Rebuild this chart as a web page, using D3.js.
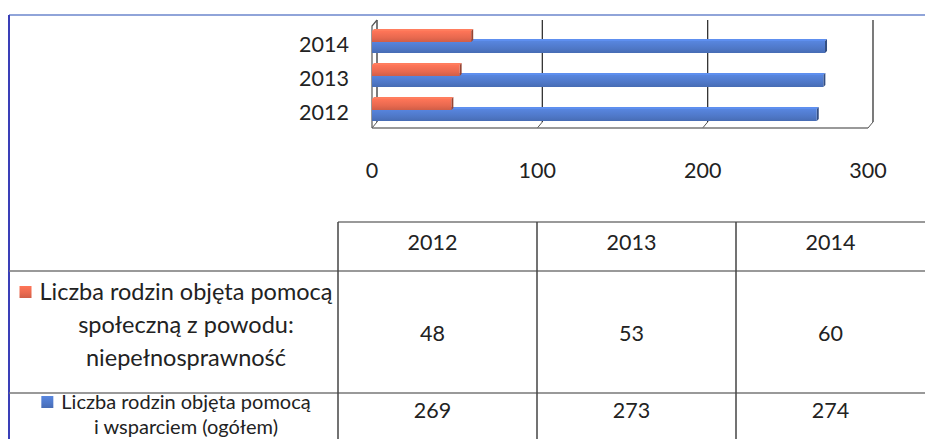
<!DOCTYPE html>
<html>
<head>
<meta charset="utf-8">
<script src="https://cdn.jsdelivr.net/npm/d3@7"></script>
<style>
  body { margin: 0; background: #fff; }
  svg { display: block; font-family: Lato, "Open Sans", sans-serif; }
</style>
</head>
<body>
<div id="container"></div>
<script>
const width = 925, height = 439;

// data
const years = ["2012", "2013", "2014"];
const disability = [48, 53, 60];
const total = [269, 273, 274];
const ticks = [0, 100, 200, 300];
const legendRed = ["Liczba rodzin objęta pomocą", "społeczną z powodu:", "niepełnosprawność"];
const legendBlue = ["Liczba rodzin objęta pomocą", "i wsparciem (ogółem)"];

const red = "#e8694f", blue = "#4f78c8";
const depth = { dx: 5, dy: -6 };

const svg = d3.select("#container")
  .append("svg")
  .attr("width", width)
  .attr("height", height);

const defs = svg.append("defs");
function grad(id, c) {
  const g = defs.append("linearGradient").attr("id", id)
    .attr("x1", 0).attr("y1", 0).attr("x2", 0).attr("y2", 1);
  g.append("stop").attr("offset", "0%").attr("stop-color", d3.color(c).brighter(0.3));
  g.append("stop").attr("offset", "60%").attr("stop-color", c);
  g.append("stop").attr("offset", "100%").attr("stop-color", d3.color(c).darker(0.3));
}
grad("gRed", red);
grad("gBlue", blue);

// outer blue frame
svg.append("line").attr("x1", 9).attr("x2", width).attr("y1", 15).attr("y2", 15)
  .attr("stroke", "#6b86cc").attr("stroke-width", 1.5);
svg.append("line").attr("x1", 9).attr("x2", 9).attr("y1", 15).attr("y2", height)
  .attr("stroke", "#3a3fb8").attr("stroke-width", 2);

// ---- chart ----
const xScale = d3.scaleLinear().domain([0, 300]).range([372, 868]);
const yScale = d3.scaleBand().domain(["2014", "2013", "2012"]).range([24, 126]);
const floorY = 128, wallTop = 20;

const grid = svg.append("g");
// back gridlines
grid.selectAll("line.grid")
  .data(ticks)
  .join("line")
  .attr("class", "grid")
  .attr("x1", d => xScale(d) + depth.dx)
  .attr("x2", d => xScale(d) + depth.dx)
  .attr("y1", wallTop)
  .attr("y2", floorY + depth.dy)
  .attr("stroke", "#333").attr("stroke-width", 1.3);
// floor diagonals
grid.selectAll("line.diag")
  .data(ticks)
  .join("line")
  .attr("class", "diag")
  .attr("x1", d => xScale(d) + depth.dx)
  .attr("x2", d => xScale(d))
  .attr("y1", floorY + depth.dy)
  .attr("y2", floorY)
  .attr("stroke", "#555").attr("stroke-width", 1);
// floor edge
grid.append("line")
  .attr("x1", xScale(0)).attr("x2", xScale(300))
  .attr("y1", floorY).attr("y2", floorY)
  .attr("stroke", "#777").attr("stroke-width", 1.3);
// left wall front edge
grid.append("path")
  .attr("d", `M${xScale(0) + depth.dx},${wallTop} L${xScale(0)},${wallTop - depth.dy} L${xScale(0)},${floorY}`)
  .attr("fill", "none").attr("stroke", "#555").attr("stroke-width", 1.2);

const rows = years.map((y, i) => ({ year: y, red: disability[i], blue: total[i] }));

function bar3d(g, v, top, h, fillId, c) {
  const x0 = xScale(0), x1 = xScale(v);
  const d = 2;
  // top face
  g.append("path")
    .attr("d", `M${x0},${top} L${x0 + d},${top - d} L${x1 + d},${top - d} L${x1},${top} Z`)
    .attr("fill", d3.color(c).brighter(0.5));
  // end cap
  g.append("path")
    .attr("d", `M${x1},${top} L${x1 + d},${top - d} L${x1 + d},${top + h - d} L${x1},${top + h} Z`)
    .attr("fill", d3.color(c).darker(1.2));
  // front
  g.append("rect")
    .attr("x", x0).attr("y", top)
    .attr("width", x1 - x0).attr("height", h)
    .attr("fill", `url(#${fillId})`);
}

const bars = svg.append("g");
rows.forEach(r => {
  const c = yScale(r.year) + yScale.bandwidth() / 2;
  const g = bars.append("g");
  bar3d(g, r.blue, c, 12, "gBlue", blue);
  bar3d(g, r.red, c - 10, 11, "gRed", red);
});

// category labels
svg.selectAll("text.year")
  .data(rows)
  .join("text")
  .attr("class", "year")
  .attr("x", 349)
  .attr("y", d => yScale(d.year) + yScale.bandwidth() / 2 + 3)
  .attr("dy", "0.35em")
  .attr("text-anchor", "end")
  .attr("font-size", 21.5)
  .attr("fill", "#222")
  .text(d => d.year);

// x tick labels
svg.selectAll("text.tick")
  .data(ticks)
  .join("text")
  .attr("class", "tick")
  .attr("x", d => xScale(d))
  .attr("y", 170)
  .attr("dy", "0.35em")
  .attr("text-anchor", "middle")
  .attr("font-size", 21.5)
  .attr("fill", "#222")
  .text(d => d);

// ---- data table ----
const colX = d3.scaleBand().domain(years).range([338, 935]);
const rowLines = [271, 393];
const tableTop = 222;

const table = svg.append("g");
table.append("line").attr("x1", 338).attr("x2", width).attr("y1", tableTop).attr("y2", tableTop)
  .attr("stroke", "#777").attr("stroke-width", 1.5);
table.selectAll("line.hrow")
  .data(rowLines)
  .join("line")
  .attr("class", "hrow")
  .attr("x1", 9).attr("x2", width)
  .attr("y1", d => d).attr("y2", d => d)
  .attr("stroke", "#777").attr("stroke-width", 1.5);
table.selectAll("line.vcol")
  .data(years)
  .join("line")
  .attr("class", "vcol")
  .attr("x1", d => colX(d)).attr("x2", d => colX(d))
  .attr("y1", tableTop).attr("y2", height)
  .attr("stroke", "#444").attr("stroke-width", 1.5);

// header years
table.selectAll("text.head")
  .data(years)
  .join("text")
  .attr("class", "head")
  .attr("x", d => colX(d) + colX.bandwidth() / 2 - 5)
  .attr("y", 242)
  .attr("dy", "0.35em")
  .attr("text-anchor", "middle")
  .attr("font-size", 21.5)
  .attr("fill", "#222")
  .text(d => d);

// values
const valueRows = [
  { vals: disability, y: 333 },
  { vals: total, y: 410 }
];
valueRows.forEach(vr => {
  table.selectAll(null)
    .data(years)
    .join("text")
    .attr("x", d => colX(d) + colX.bandwidth() / 2 - 5)
    .attr("y", vr.y)
    .attr("dy", "0.35em")
    .attr("text-anchor", "middle")
    .attr("font-size", 21.5)
    .attr("fill", "#222")
    .text((d, i) => vr.vals[i]);
});

// legend cells
function legendCell(lines, y0, step, size, fillId) {
  const g = table.append("g");
  g.selectAll("text")
    .data(lines)
    .join("text")
    .attr("x", 186)
    .attr("y", (d, i) => y0 + i * step)
    .attr("dy", "0.35em")
    .attr("text-anchor", "middle")
    .attr("font-size", size)
    .attr("fill", "#222")
    .text(d => d);
  const first = g.select("text").node().getBBox();
  g.append("rect")
    .attr("x", first.x - 20).attr("y", y0 - 6)
    .attr("width", 12).attr("height", 12)
    .attr("fill", `url(#${fillId})`);
}
legendCell(legendRed, 292, 33, 23.5, "gRed");
legendCell(legendBlue, 402, 25, 20, "gBlue");
</script>
</body>
</html>
